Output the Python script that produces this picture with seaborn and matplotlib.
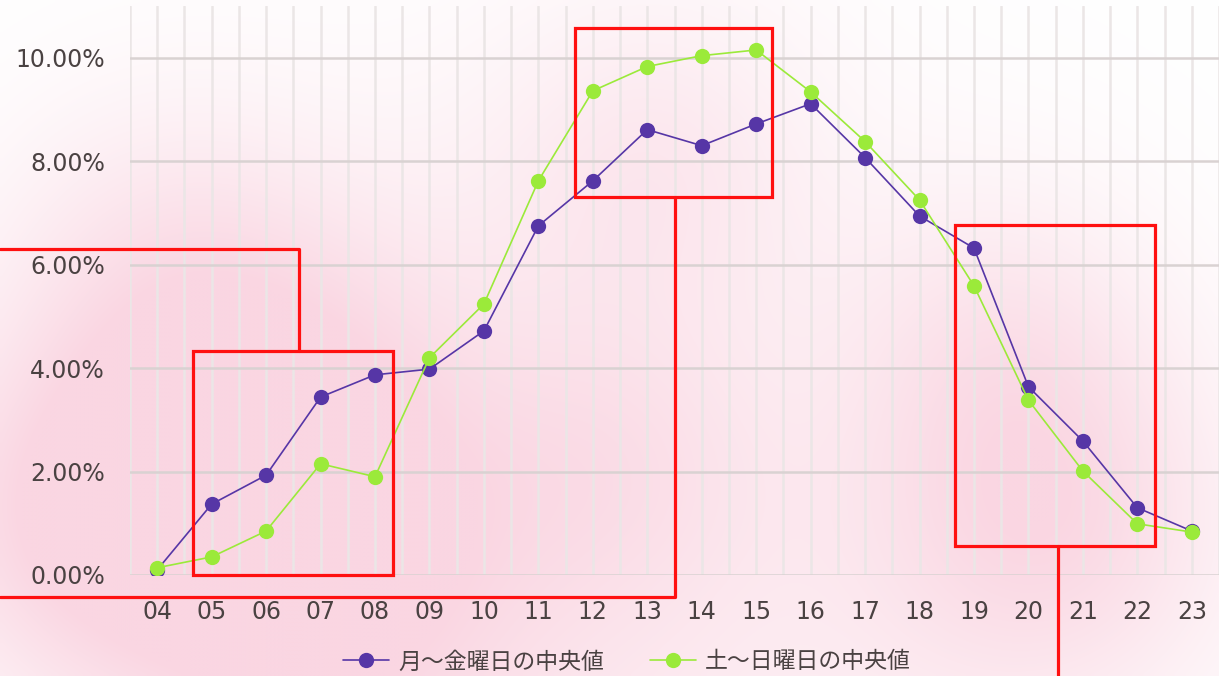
import numpy as np
import pandas as pd
import seaborn as sns
import matplotlib.pyplot as plt
from matplotlib.lines import Line2D
from matplotlib.patches import Rectangle
from matplotlib.ticker import FuncFormatter, MultipleLocator

# --- data (share of daily activity, %) ---
hours = ['04', '05', '06', '07', '08', '09', '10', '11', '12', '13',
         '14', '15', '16', '17', '18', '19', '20', '21', '22', '23']
weekday = [0.10, 1.37, 1.93, 3.44, 3.87, 3.98, 4.72, 6.75, 7.62, 8.61,
           8.30, 8.72, 9.11, 8.07, 6.94, 6.32, 3.64, 2.59, 1.30, 0.85]
weekend = [0.14, 0.35, 0.85, 2.15, 1.90, 4.20, 5.24, 7.62, 9.36, 9.83,
           10.04, 10.15, 9.34, 8.38, 7.25, 5.59, 3.38, 2.01, 0.99, 0.83]
series_names = ['月～金曜日の中央値', '土～日曜日の中央値']
colors = ['#5636a6', '#9bea3a']

W, H = 1219, 676
TEXT = '#4a4242'

sns.set_theme(style='white')
plt.rcParams['font.family'] = ['DejaVu Sans', 'Noto Sans CJK JP']

fig = plt.figure(figsize=(W / 100, H / 100), dpi=100)

# soft pink "heat" overlay in the background
bg = fig.add_axes([0, 0, 1, 1], zorder=-5)
yy, xx = np.mgrid[0:H:4, 0:W:4]
blobs = [(250, 420, 160, 0.9), (60, 520, 120, 0.6), (650, 160, 120, 0.45),
         (620, 460, 110, 0.35), (1050, 520, 130, 0.75), (1000, 330, 110, 0.4),
         (620, 670, 320, 0.45), (300, 630, 160, 0.55), (150, 250, 120, 0.3)]
heat = np.zeros_like(xx, dtype=float)
for bx, by, s, a in blobs:
    heat += a * np.exp(-((xx - bx) ** 2 + (yy - by) ** 2) / (2 * s ** 2))
heat = np.clip(heat, 0, 1)
pink = np.array([250, 214, 226]) / 255
img = np.ones(heat.shape + (3,)) * (1 - heat[..., None]) + pink * heat[..., None]
bg.imshow(img, extent=[0, W, H, 0], aspect='auto', interpolation='bilinear')
bg.set_xlim(0, W)
bg.set_ylim(H, 0)
bg.axis('off')

ax = fig.add_axes([130 / W, 1 - 575 / H, 1 - 130 / W, (575 - 6) / H])
ax.set_facecolor('none')

df = pd.DataFrame({
    'x': list(range(len(hours))) * 2,
    'value': weekday + weekend,
    'series': [series_names[0]] * len(hours) + [series_names[1]] * len(hours),
})
sns.lineplot(data=df, x='x', y='value', hue='series', hue_order=series_names,
             palette=colors, marker='o', markersize=11, markeredgewidth=0,
             linewidth=1.2, ax=ax, zorder=3)

ax.set_xlim(-0.5, len(hours) - 0.5)
ax.set_ylim(0, 11)
ax.set_xticks(range(len(hours)))
ax.set_xticklabels(hours)
ax.xaxis.set_minor_locator(MultipleLocator(0.5))
ax.set_yticks([0, 2, 4, 6, 8, 10])
ax.yaxis.set_major_formatter(FuncFormatter(lambda v, p: f'{v:.2f}%'))
ax.grid(axis='x', which='both', color='#ebe6e6', linewidth=1.8, zorder=0)
ax.grid(axis='y', which='major', color='#d9d2d2', linewidth=1.8, zorder=0)
ax.tick_params(axis='both', which='both', length=0, labelsize=17, colors=TEXT)
ax.tick_params(axis='x', pad=18)
ax.tick_params(axis='y', pad=18)
for sp in ax.spines.values():
    sp.set_visible(False)
ax.set_xlabel('')
ax.set_ylabel('')

ax.legend_.remove()
handles = [Line2D([], [], color=c, marker='o', markersize=11, markeredgewidth=0,
                  linewidth=1.2) for c in colors]
leg = fig.legend(handles, series_names, loc='center', bbox_to_anchor=(627 / W, 1 - 662 / H),
                 ncol=2, frameon=False, fontsize=16.5, handlelength=2.0, handletextpad=0.4,
                 columnspacing=2.0, labelcolor=TEXT)

# red highlight boxes drawn on top, in pixel coordinates of the figure
def px(x, y):
    return x / W, 1 - y / H

red = '#ff1010'
lw = 2.3
for x0, y0, x1, y1 in [(193, 351, 393, 575), (575, 28, 772, 197), (955, 225, 1155, 546)]:
    fx, fy = px(x0, y1)
    fig.add_artist(Rectangle((fx, fy), (x1 - x0) / W, (y1 - y0) / H, fill=False,
                             edgecolor=red, linewidth=lw, transform=fig.transFigure, zorder=10))
for pts in [[(0, 249), (299, 249), (299, 351)],
            [(0, 597), (675, 597), (675, 197)],
            [(1058, 546), (1058, 676)]]:
    xs, ys = zip(*[px(*p) for p in pts])
    fig.add_artist(Line2D(xs, ys, color=red, linewidth=lw, transform=fig.transFigure, zorder=10))

fig.savefig('out.png', dpi=100)
